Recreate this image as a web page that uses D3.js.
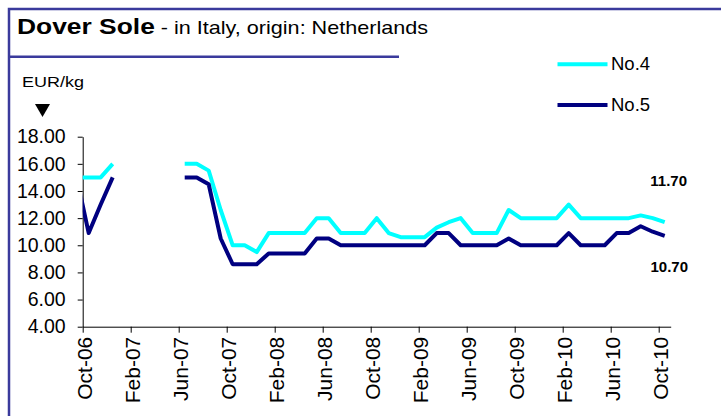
<!DOCTYPE html>
<html>
<head>
<meta charset="utf-8">
<script src="https://cdn.jsdelivr.net/npm/d3@7/dist/d3.min.js"></script>
<style>
  body { margin: 0; background: #fff; }
  text { font-family: "Liberation Sans", Arial, sans-serif; fill: #000; }
  .axis path, .axis line { stroke: #000; stroke-width: 1; }
</style>
</head>
<body>
<svg width="721" height="416"></svg>
<script>
// monthly prices, Sep-06 .. Oct-10 (null = no quote)
var months = ["Sep-06","Oct-06","Nov-06","Dec-06","Jan-07","Feb-07","Mar-07","Apr-07","May-07",
  "Jun-07","Jul-07","Aug-07","Sep-07","Oct-07","Nov-07","Dec-07",
  "Jan-08","Feb-08","Mar-08","Apr-08","May-08","Jun-08","Jul-08","Aug-08","Sep-08","Oct-08","Nov-08","Dec-08",
  "Jan-09","Feb-09","Mar-09","Apr-09","May-09","Jun-09","Jul-09","Aug-09","Sep-09","Oct-09","Nov-09","Dec-09",
  "Jan-10","Feb-10","Mar-10","Apr-10","May-10","Jun-10","Jul-10","Aug-10","Sep-10","Oct-10"];
var no4 = [15.0,15.0,15.0,16.0,null,null,null,null,null,
  16.0,16.0,15.5,12.6,10.0,10.0,9.5,
  10.9,10.9,10.9,10.9,12.0,12.0,10.9,10.9,10.9,12.0,10.9,10.6,
  10.6,10.6,11.3,11.7,12.0,10.9,10.9,10.9,12.6,12.0,12.0,12.0,
  12.0,13.0,12.0,12.0,12.0,12.0,12.0,12.2,12.0,11.7];
var no5 = [15.0,10.9,13.0,15.0,null,null,null,null,null,
  15.0,15.0,14.5,10.5,8.6,8.6,8.6,
  9.4,9.4,9.4,9.4,10.5,10.5,10.0,10.0,10.0,10.0,10.0,10.0,
  10.0,10.0,10.9,10.9,10.0,10.0,10.0,10.0,10.5,10.0,10.0,10.0,
  10.0,10.9,10.0,10.0,10.0,10.9,10.9,11.4,11.0,10.7];
var xTickLabels = ["Oct-06","Feb-07","Jun-07","Oct-07","Feb-08","Jun-08","Oct-08",
  "Feb-09","Jun-09","Oct-09","Feb-10","Jun-10","Oct-10"];
var yTicks = [4, 6, 8, 10, 12, 14, 16, 18];
var seriesNames = ["No.4", "No.5"];
var seriesColors = ["#00ffff", "#000080"];

var svg = d3.select("svg");
var parse = d3.timeParse("%b-%y");
var start = parse("Oct-06");
var idx = function(m) { return d3.timeMonth.count(start, parse(m)); };

var plotL = 82.7, plotR = 670.7, plotT = 136.7, plotB = 326.7;
var x = d3.scaleLinear().domain([0, idx("Oct-10") + 1]).range([plotL, plotR]);
var y = d3.scaleLinear().domain([4, 18]).range([plotB, plotT]);

// frame
svg.append("rect")
  .attr("x", 9).attr("y", 9).attr("width", 740).attr("height", 440)
  .attr("fill", "none").attr("stroke", "#3a3a9c").attr("stroke-width", 2.5);
svg.append("line")
  .attr("x1", 9).attr("x2", 399).attr("y1", 56.7).attr("y2", 56.7)
  .attr("stroke", "#3a3a9c").attr("stroke-width", 2.5);

// title text is drawn a bit wide, like the original
var title = svg.append("text").attr("transform", "translate(17,34) scale(1.2,1)");
title.append("tspan").attr("font-weight", "bold").attr("font-size", 22).text("Dover Sole");
title.append("tspan").attr("font-size", 18).text(" - in Italy, origin: Netherlands");

svg.append("text").attr("transform", "translate(22,86.5) scale(1.2,1)")
  .attr("font-size", 15).text("EUR/kg");
svg.append("path").attr("d", "M35,104L50,104L42.5,117Z").attr("fill", "#000");

// axes
var gy = svg.append("g").attr("class", "axis")
  .attr("transform", "translate(" + plotL + ",0)")
  .call(d3.axisLeft(y).tickValues(yTicks).tickFormat(d3.format(".2f"))
    .tickSize(5).tickSizeOuter(0).tickPadding(12));
gy.selectAll("text").attr("font-size", 19.5).attr("font-family", "Liberation Sans, Arial, sans-serif");

var xTickIdx = xTickLabels.map(idx);
var gx = svg.append("g").attr("class", "axis")
  .attr("transform", "translate(0," + plotB + ")")
  .call(d3.axisBottom(x).tickValues(xTickIdx)
    .tickFormat(function(d, i) { return xTickLabels[i]; })
    .tickSize(6).tickSizeOuter(0));
gx.selectAll("text")
  .attr("font-size", 21).attr("font-family", "Liberation Sans, Arial, sans-serif")
  .attr("transform", "rotate(-90)")
  .attr("text-anchor", "end")
  .attr("x", -10).attr("y", 0).attr("dy", "0.4em");

// lines, clipped at the value axis
svg.append("clipPath").attr("id", "plot")
  .append("rect").attr("x", plotL).attr("y", 0).attr("width", plotR - plotL).attr("height", 416);

var line = d3.line()
  .defined(function(d) { return d.v != null; })
  .x(function(d) { return x(idx(d.m) + 0.5); })
  .y(function(d) { return y(d.v); });

[no4, no5].forEach(function(vals, s) {
  var pts = months.map(function(m, i) { return { m: m, v: vals[i] }; });
  svg.append("path")
    .datum(pts)
    .attr("clip-path", "url(#plot)")
    .attr("fill", "none")
    .attr("stroke", seriesColors[s])
    .attr("stroke-width", 4)
    .attr("stroke-linejoin", "round")
    .attr("d", line);
});

// end values
svg.append("text").attr("x", 687).attr("y", 186).attr("text-anchor", "end")
  .attr("font-size", 15).attr("font-weight", "bold").text(no4[no4.length - 1].toFixed(2));
svg.append("text").attr("x", 688).attr("y", 271.5).attr("text-anchor", "end")
  .attr("font-size", 15).attr("font-weight", "bold").text(no5[no5.length - 1].toFixed(2));

// legend
var legY = [64.3, 105];
seriesNames.forEach(function(n, i) {
  svg.append("line").attr("x1", 557.5).attr("x2", 607.5).attr("y1", legY[i]).attr("y2", legY[i])
    .attr("stroke", seriesColors[i]).attr("stroke-width", 4);
  svg.append("text").attr("x", 611).attr("y", legY[i] + 5.5).attr("font-size", 18.5).text(n);
});
</script>
</body>
</html>
